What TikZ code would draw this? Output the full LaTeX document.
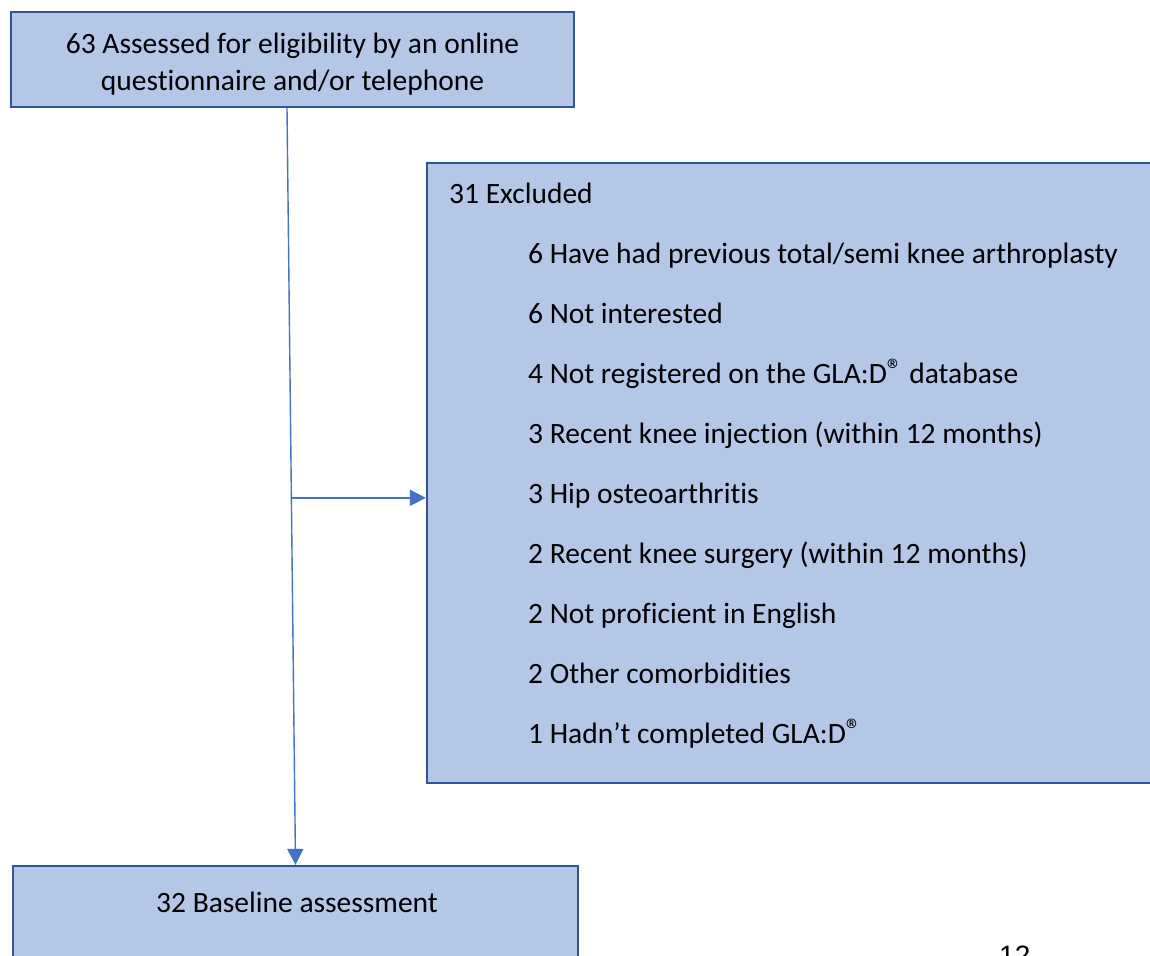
\documentclass[tikz,border=0pt]{standalone}
\usepackage{fontspec}
\setmainfont{Carlito}[Ligatures={NoCommon}]
\newfontfamily\pagefont{Liberation Sans}
\usetikzlibrary{arrows.meta,calc}
\definecolor{boxfill}{HTML}{B4C7E7}
\definecolor{boxline}{HTML}{2F5597}
\definecolor{arrowblue}{HTML}{4472C4}
\newcommand{\regmark}{\raisebox{3pt}{\fontsize{31}{31}\selectfont ®}}
\tikzset{
  flowbox/.style={draw=boxline, fill=boxfill, line width=2.2pt, inner sep=0pt},
  conn/.style={draw=arrowblue, line width=1.4pt, -{Triangle[length=16pt,width=16pt]}},
  item/.style={anchor=base west, inner sep=0pt, font=\fontsize{29.5}{34}\selectfont},
}
\begin{document}
\begin{tikzpicture}[x=1pt,y=-1pt]
\useasboundingbox (0,0) rectangle (1150,955);
\clip (0,0) rectangle (1150,955);
\fill[white] (0,0) rectangle (1150,955);
% top box
\node[flowbox, minimum width=563pt, minimum height=95pt] (top) at (292.5,59.5) {};
\node[inner sep=0pt, align=center, font=\fontsize{29.5}{37}\selectfont] (toptxt) at (292.5,64)
  {63 Assessed for eligibility by an online\\questionnaire and/or telephone};
% excluded box (extends past the right edge)
\node[flowbox, minimum width=763pt, minimum height=620pt] (excl) at (808.5,473) {};
% bottom box (extends past the bottom edge)
\node[flowbox, minimum width=565pt, minimum height=140pt] (base) at (295.5,936) {};
\node[anchor=base, inner sep=0pt, font=\fontsize{29.5}{34}\selectfont] (basetxt) at (297,912) {32 Baseline assessment};
% excluded texts
\node[item] (ex0) at (449,203) {31 Excluded};
\node[item] (ex1) at (528,263) {6 Have had previous total/semi knee arthroplasty};
\node[item] (ex2) at (528,323) {6 Not interested};
\node[item] (ex3) at (528,383) {4 Not registered on the GLA:D\regmark\ database};
\node[item] (ex4) at (528,443) {3 Recent knee injection (within 12 months)};
\node[item] (ex5) at (528,503) {3 Hip osteoarthritis};
\node[item] (ex6) at (528,563) {2 Recent knee surgery (within 12 months)};
\node[item] (ex7) at (528,623) {2 Not proficient in English};
\node[item] (ex8) at (528,683) {2 Other comorbidities};
\node[item] (ex9) at (528,743) {1 Hadn’t completed GLA:D\regmark};
% connectors
\coordinate (vstart) at ($(top.south)+(-5.5,0)$);
\coordinate (branch) at ($(vstart)!0.515!(base.north)$);
\draw[conn] (vstart) -- (base.north);
\draw[conn] (branch) -- (branch -| excl.west);
% page number (cut off at the bottom, as in the reference)
\node[anchor=north west, inner sep=0pt, font=\pagefont\fontsize{28}{30}\selectfont] (pg) at (999,946) {12};
\end{tikzpicture}
\end{document}
